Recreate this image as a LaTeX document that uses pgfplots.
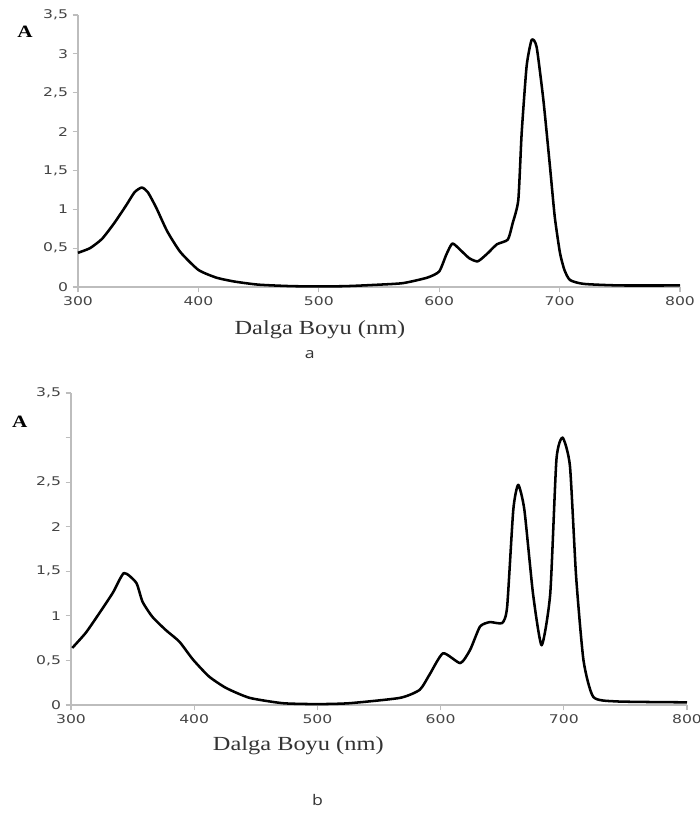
\documentclass[border=0pt]{standalone}
\usepackage{pgfplots}
\pgfplotsset{compat=1.18}
\usepackage{fontspec}
\setmainfont{Liberation Serif}
\newfontfamily\tickfont[FakeStretch=1.3]{DejaVu Sans}
\newfontfamily\labfont[FakeStretch=1.22]{Liberation Serif}
\newfontfamily\subfont[FakeStretch=1.2]{Open Sans}

\definecolor{axisgray}{HTML}{BDBDBD}
\definecolor{tickgray}{HTML}{444444}

% spectrum a
\pgfplotstableread{
nm A
300 0.44
310 0.50
320 0.62
330 0.82
340 1.05
347 1.22
353 1.28
358 1.22
365 1.02
374 0.72
385 0.45
400 0.22
415 0.12
430 0.07
450 0.03
480 0.01
520 0.01
550 0.03
570 0.05
590 0.12
600 0.20
606 0.42
611 0.56
618 0.47
625 0.37
632 0.33
640 0.43
648 0.55
657 0.61
661 0.82
665.7 1.12
668.5 1.98
672.6 2.84
676.8 3.18
680.9 3.09
686.5 2.41
692 1.55
696 0.90
700.3 0.44
704 0.22
708.6 0.09
720 0.04
750 0.02
800 0.02
}\specA

% spectrum b
\pgfplotstableread{
nm A
301 0.64
312 0.81
323 1.03
334 1.26
343 1.48
353 1.37
358 1.16
366 0.99
377 0.84
388 0.71
399 0.51
412 0.32
426 0.19
445 0.08
472 0.02
500 0.01
526 0.02
567 0.08
583 0.17
591 0.34
602 0.58
616 0.47
624 0.62
632 0.88
640 0.93
650 0.92
654 1.10
659 2.19
663 2.47
668 2.19
675 1.25
682 0.67
689 1.25
694 2.75
699 3.00
705 2.68
710 1.44
716 0.50
724 0.09
743 0.04
800 0.03
}\specB

\pgfplotsset{
  specstyle/.style={
    scale only axis,
    anchor=south west,
    xmin=300, xmax=800,
    ymin=0, ymax=3.5,
    xtick={300,400,...,800},
    ytick={0,0.5,...,3.5},
    axis x line=bottom,
    axis y line=left,
    axis line style={-, draw=axisgray, line width=1.1pt},
    tick style={draw=axisgray, line width=0.8pt},
    tick align=outside,
    major tick length=4pt,
    ticklabel style={font=\tickfont\fontsize{9}{10}\selectfont, text=tickgray},
    /pgf/number format/assume math mode=true,
    /pgf/number format/use comma,
    /pgf/number format/1000 sep={},
    clip=false,
    xlabel={Dalga Boyu (nm)},
    ylabel={A},
  },
  spec/.style={black, line width=1.9pt, line join=round, smooth, tension=0.35},
}

\begin{document}
\begin{tikzpicture}
\useasboundingbox (0,0) rectangle (525pt,611.25pt);

\begin{axis}[specstyle,
  at={(58.5pt,396pt)},
  width=451.5pt, height=204pt,
  xlabel style={at={(axis description cs:0.402,-0.158)}, anchor=center,
    font=\labfont\fontsize{15}{16}\selectfont, text=black!80},
  ylabel style={rotate=-90, at={(axis description cs:-0.088,0.9375)}, anchor=center,
    font=\labfont\bfseries\fontsize{13}{14}\selectfont},
]
\addplot[spec] table[x=nm, y=A] {\specA};
\node[font=\subfont\fontsize{11}{12}\selectfont, text=black!80]
  at (axis description cs:0.385,-0.25) {a};
\end{axis}

\begin{axis}[specstyle,
  at={(53.25pt,82.5pt)},
  width=462pt, height=234pt,
  yticklabels={0,{0,5},1,{1,5},2,{2,5},,{3,5}},
  xlabel style={at={(axis description cs:0.369,-0.131)}, anchor=center,
    font=\labfont\fontsize{15}{16}\selectfont, text=black!80},
  ylabel style={rotate=-90, at={(axis description cs:-0.083,0.907)}, anchor=center,
    font=\labfont\bfseries\fontsize{13}{14}\selectfont},
]
\addplot[spec] table[x=nm, y=A] {\specB};
\node[font=\subfont\fontsize{11}{12}\selectfont, text=black!80]
  at (axis description cs:0.40,-0.304) {b};
\end{axis}
\end{tikzpicture}
\end{document}
